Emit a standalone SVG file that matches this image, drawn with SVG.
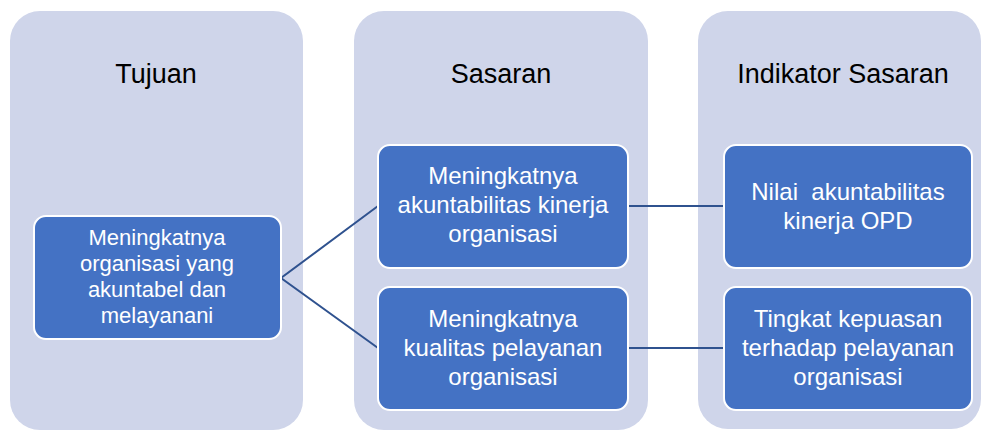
<svg xmlns="http://www.w3.org/2000/svg" width="982" height="430" viewBox="0 0 982 430">
<style>
.col{fill:#CFD5EA;}
.box{fill:#4472C4;stroke:#FFFFFF;stroke-width:2;}
.hdr{font-family:"Liberation Sans",Arial,sans-serif;font-size:27px;fill:#000000;text-anchor:middle;}
.lbl{font-family:"Liberation Sans",Arial,sans-serif;font-size:24px;fill:#FFFFFF;text-anchor:middle;white-space:pre;}
.lbl2{font-family:"Liberation Sans",Arial,sans-serif;font-size:22px;fill:#FFFFFF;text-anchor:middle;}
.conn{stroke:#2F528F;stroke-width:2;fill:none;}
</style>
<rect width="982" height="430" fill="#FFFFFF"/>
<g id="col-tujuan">
<rect class="col" x="10" y="11" width="293" height="419" rx="30" ry="30"/>
<text class="hdr" x="156" y="83">Tujuan</text>
</g>
<g id="col-sasaran">
<rect class="col" x="354" y="11" width="294" height="419" rx="30" ry="30"/>
<text class="hdr" x="501" y="83">Sasaran</text>
</g>
<g id="col-indikator">
<rect class="col" x="698" y="11" width="283" height="418" rx="30" ry="30"/>
<text class="hdr" x="843" y="83">Indikator Sasaran</text>
</g>
<g id="connectors">
<polyline class="conn" points="378,206 281,278 378,348"/>
<line class="conn" x1="628" y1="206" x2="724" y2="206"/>
<line class="conn" x1="628" y1="348" x2="724" y2="348"/>
</g>
<g id="node-tujuan">
<rect class="box" x="34" y="216" width="247" height="123" rx="12" ry="12"/>
<text class="lbl2" x="157" y="245">Meningkatnya</text>
<text class="lbl2" x="157" y="271">organisasi yang</text>
<text class="lbl2" x="157" y="297">akuntabel dan</text>
<text class="lbl2" x="157" y="323">melayanani</text>
</g>
<g id="node-sasaran1">
<rect class="box" x="378" y="145" width="250" height="123" rx="12" ry="12"/>
<text class="lbl" x="503" y="184">Meningkatnya</text>
<text class="lbl" x="503" y="213">akuntabilitas kinerja</text>
<text class="lbl" x="503" y="242">organisasi</text>
</g>
<g id="node-sasaran2">
<rect class="box" x="378" y="287" width="250" height="123" rx="12" ry="12"/>
<text class="lbl" x="503" y="327">Meningkatnya</text>
<text class="lbl" x="503" y="356">kualitas pelayanan</text>
<text class="lbl" x="503" y="385">organisasi</text>
</g>
<g id="node-indikator1">
<rect class="box" x="724" y="145" width="248" height="123" rx="12" ry="12"/>
<text class="lbl" x="848" y="200" xml:space="preserve">Nilai  akuntabilitas</text>
<text class="lbl" x="848" y="229">kinerja OPD</text>
</g>
<g id="node-indikator2">
<rect class="box" x="724" y="287" width="248" height="123" rx="12" ry="12"/>
<text class="lbl" x="848" y="327">Tingkat kepuasan</text>
<text class="lbl" x="848" y="356">terhadap pelayanan</text>
<text class="lbl" x="848" y="385">organisasi</text>
</g>
</svg>
